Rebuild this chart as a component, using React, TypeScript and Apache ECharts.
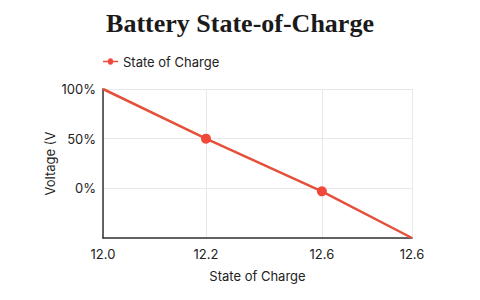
import React, { useEffect, useRef } from "react";
import * as echarts from "echarts";

const voltage = [12.0, 12.2, 12.425, 12.6];
const stateOfCharge = [100, 50, -3, -50];
const xTickLabels = ["12.0", "12.2", "12.6", "12.6"];
const yTicks = [-50, 0, 50, 100];

export default function App() {
  const ref = useRef<HTMLDivElement>(null);
  useEffect(() => {
    const chart = echarts.init(ref.current!, null, { renderer: "svg" });
    const font = "Inter, 'Noto Sans', sans-serif";
    chart.setOption({
      animation: false,
      title: {
        text: "Battery State-of-Charge",
        left: "center",
        top: -3,
        textStyle: {
          fontFamily: "'Liberation Serif', serif",
          fontWeight: "bold",
          fontSize: 26,
          color: "#1a1a1a",
        },
      },
      legend: {
        left: 90,
        top: 42,
        icon: "path://M0,4 L6,4 A3,3 0 1 1 12,4 L18,4 L18,6 L12,6 A3,3 0 1 1 6,6 L0,6 Z",
        itemWidth: 15,
        itemHeight: 8,
        itemGap: 8,
        textStyle: { fontFamily: font, fontSize: 13, color: "#222" },
        data: ["State of Charge"],
      },
      grid: { left: 95, right: 60, top: 81, bottom: 54 },
      xAxis: {
        type: "value",
        min: voltage[0],
        max: voltage[voltage.length - 1],
        name: "State of Charge",
        nameLocation: "middle",
        nameGap: 31,
        nameTextStyle: { fontFamily: font, fontSize: 13, color: "#222" },
        axisLine: { show: true, onZero: false, lineStyle: { color: "#333", width: 1.5 } },
        axisTick: { show: false, customValues: voltage },
        axisLabel: {
          customValues: voltage,
          fontFamily: font,
          fontSize: 13,
          color: "#222",
          margin: 9,
          formatter: (v: number) => {
            const i = voltage.indexOf(v);
            return i >= 0 ? xTickLabels[i] : "";
          },
        },
        splitLine: { show: true, lineStyle: { color: "#e8e8e8" } },
      },
      yAxis: {
        type: "value",
        min: yTicks[0],
        max: yTicks[yTicks.length - 1],
        interval: 50,
        name: "Voltage (V",
        nameLocation: "middle",
        nameGap: 47,
        nameMoveOverlap: false,
        nameTextStyle: { fontFamily: font, fontSize: 13, color: "#222" },
        axisLine: { show: true, onZero: false, lineStyle: { color: "#333", width: 1.5 } },
        axisTick: { show: false },
        axisLabel: {
          fontFamily: font,
          fontSize: 13,
          color: "#222",
          margin: 7,
          formatter: (v: number) => (v === yTicks[0] ? "" : v + "%"),
        },
        splitLine: { show: true, lineStyle: { color: "#e8e8e8" } },
      },
      series: [
        {
          name: "State of Charge",
          type: "line",
          data: voltage.map((v, i) => ({
            value: [v, stateOfCharge[i]],
            symbolSize: i === 0 || i === voltage.length - 1 ? 0 : 10,
          })),
          symbol: "circle",
          color: "#e5503b",
          lineStyle: { color: "#e5503b", width: 2.5 },
          itemStyle: { color: "#f0493a" },
        },
      ],
    });
    return () => chart.dispose();
  }, []);
  return <div ref={ref} style={{ width: 464, height: 284 }} />;
}
